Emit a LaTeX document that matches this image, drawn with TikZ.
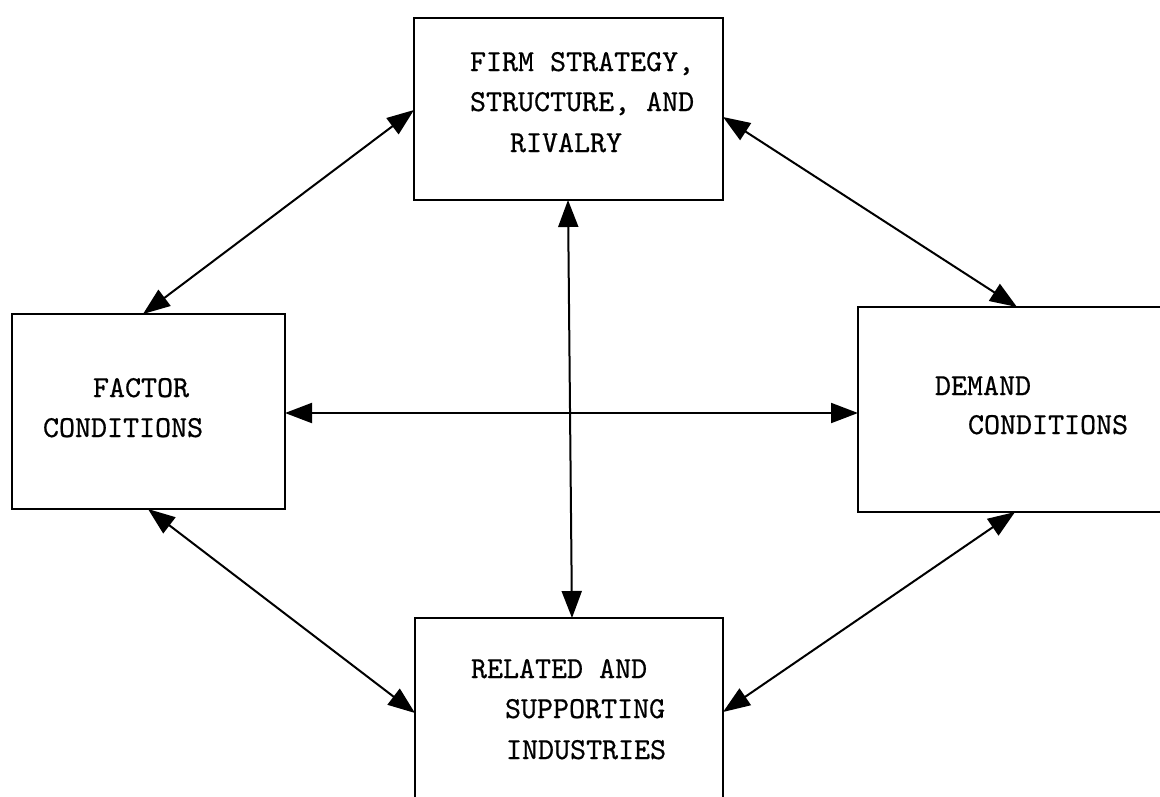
\documentclass[tikz,border=0pt]{standalone}
\usepackage{fontspec}
\newfontfamily\typew{lmmono10-regular.otf}[FakeBold=0.6]
\usetikzlibrary{arrows.meta}
\begin{document}
\begin{tikzpicture}[x=1pt,y=-1pt,
  box/.style={draw, line width=2.2pt, rectangle, inner sep=0pt, outer sep=0pt, anchor=north west},
  lbl/.style={anchor=base west, inner sep=0pt, outer sep=0pt, font=\fontsize{30.5}{36}\selectfont\typew},
  link/.style={line width=2pt, {Triangle[length=27pt,width=20pt]}-{Triangle[length=27pt,width=20pt]}}]
\useasboundingbox (0,0) rectangle (1160,796);
\clip (0,0) rectangle (1160,796);
\fill[white] (0,0) rectangle (1160,796);
% boxes
\node[box, minimum width=309pt, minimum height=182pt] (T) at (414,18) {};
\node[box, minimum width=273pt, minimum height=195pt] (L) at (12,314) {};
\node[box, minimum width=340pt, minimum height=205pt] (R) at (858,307) {};
\node[box, minimum width=308pt, minimum height=220pt] (B) at (415,618) {};
% texts
\node[lbl] (t1) at (470,71) {FIRM STRATEGY,};
\node[lbl] (t2) at (470,111) {STRUCTURE, AND};
\node[lbl] (t3) at (510,152) {RIVALRY};
\node[lbl] (l1) at (93,397) {FACTOR};
\node[lbl] (l2) at (43,437) {CONDITIONS};
\node[lbl] (r1) at (935,395) {DEMAND};
\node[lbl] (r2) at (968,434) {CONDITIONS};
\node[lbl] (b1) at (471,678) {RELATED AND};
\node[lbl] (b2) at (505,718) {SUPPORTING};
\node[lbl] (b3) at (506,759) {INDUSTRIES};
% connectors
\draw[link] ([yshift=-92pt]T.north west) -- ([xshift=131pt]L.north west);
\draw[link] ([yshift=-99pt]T.north east) -- ([xshift=159pt]R.north west);
\draw[link] ([xshift=154pt]T.south west) -- ([xshift=157pt]B.north west);
\draw[link] ([yshift=-99pt]L.north east) -- ([yshift=-106pt]R.north west);
\draw[link] ([xshift=136pt]L.south west) -- ([yshift=-95pt]B.north west);
\draw[link] ([xshift=157pt]R.south west) -- ([yshift=-94pt]B.north east);
\end{tikzpicture}
\end{document}
